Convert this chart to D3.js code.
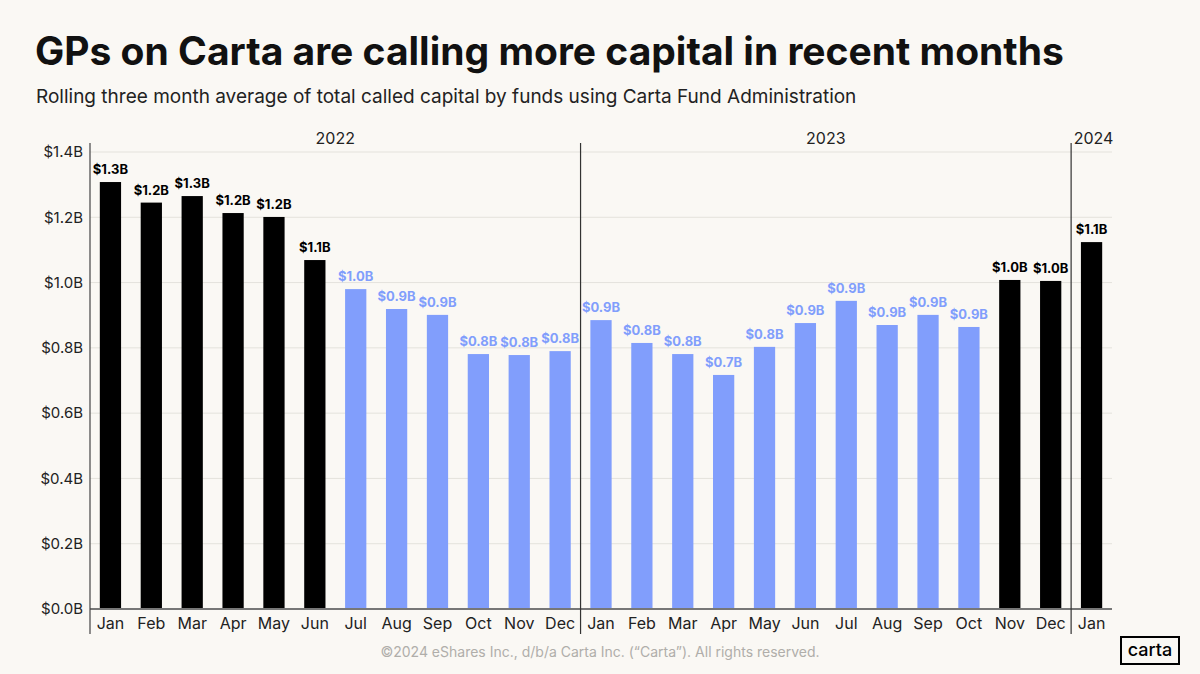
<!DOCTYPE html>
<html>
<head>
<meta charset="utf-8">
<script src="https://cdn.jsdelivr.net/npm/d3@7"></script>
<style>
  html, body { margin: 0; padding: 0; background: #faf8f4; }
  svg { display: block; font-family: Inter, "Open Sans", sans-serif; }
</style>
</head>
<body>
<div id="chart"></div>
<script>
// data
const years = ["2022", "2023", "2024"];
const months = [
  "Jan", "Feb", "Mar", "Apr", "May", "Jun", "Jul", "Aug", "Sep", "Oct", "Nov", "Dec",
  "Jan", "Feb", "Mar", "Apr", "May", "Jun", "Jul", "Aug", "Sep", "Oct", "Nov", "Dec",
  "Jan"
];
const monthYear = [
  "2022", "2022", "2022", "2022", "2022", "2022", "2022", "2022", "2022", "2022", "2022", "2022",
  "2023", "2023", "2023", "2023", "2023", "2023", "2023", "2023", "2023", "2023", "2023", "2023",
  "2024"
];
// called capital, $B
const calledCapital = [
  1.308, 1.245, 1.265, 1.213, 1.201, 1.069, 0.980, 0.919, 0.901, 0.781, 0.778, 0.790,
  0.885, 0.815, 0.781, 0.717, 0.803, 0.876, 0.944, 0.870, 0.901, 0.864, 1.008, 1.005,
  1.124
];
// months drawn in black
const highlighted = [
  "2022-Jan", "2022-Feb", "2022-Mar", "2022-Apr", "2022-May", "2022-Jun",
  "2023-Nov", "2023-Dec", "2024-Jan"
];
const yTicks = [0, 0.2, 0.4, 0.6, 0.8, 1.0, 1.2, 1.4];

const W = 1200, H = 674;
const black = "#000000", blue = "#819efc";

const rows = months.map((m, i) => ({
  key: monthYear[i] + "-" + m,
  month: m,
  year: monthYear[i],
  value: calledCapital[i]
}));

const svg = d3.select("#chart").append("svg")
  .attr("width", W)
  .attr("height", H);

svg.append("rect").attr("width", W).attr("height", H).attr("fill", "#faf8f4");

// titles
svg.append("text")
  .attr("x", 35).attr("y", 65)
  .attr("font-size", 39).attr("font-weight", 700)
  .attr("fill", "#111")
  .text("GPs on Carta are calling more capital in recent months");

svg.append("text")
  .attr("x", 36).attr("y", 103)
  .attr("font-size", 19).attr("fill", "#222")
  .text("Rolling three month average of total called capital by funds using Carta Fund Administration");

const plotLeft = 90, plotRight = 1112, plotTop = 152, plotBottom = 609;

const x = d3.scaleBand()
  .domain(rows.map(d => d.key))
  .range([plotLeft, plotRight])
  .paddingInner(0.48)
  .paddingOuter(0.24);

const y = d3.scaleLinear()
  .domain([0, 1.4])
  .range([plotBottom, plotTop]);

const fmt = v => "$" + d3.format(".1f")(v) + "B";
const colour = d3.scaleOrdinal()
  .domain([true, false])
  .range([black, blue]);
const isHi = d => highlighted.includes(d.key);

// gridlines
svg.append("g")
  .selectAll("line")
  .data(yTicks)
  .join("line")
  .attr("x1", plotLeft).attr("x2", plotRight)
  .attr("y1", d => y(d)).attr("y2", d => y(d))
  .attr("stroke", "#e4e2dc").attr("stroke-width", 1);

// y axis labels
const yAxis = svg.append("g")
  .attr("transform", `translate(${plotLeft},0)`)
  .call(d3.axisLeft(y).tickValues(yTicks).tickFormat(fmt).tickSize(0).tickPadding(7));
yAxis.select(".domain").remove();
yAxis.selectAll("text")
  .attr("font-size", 15).attr("fill", "#222")
  .attr("font-family", "Inter, sans-serif");

// bars
svg.append("g")
  .selectAll("rect")
  .data(rows)
  .join("rect")
  .attr("x", d => x(d.key))
  .attr("y", d => y(d.value))
  .attr("width", x.bandwidth())
  .attr("height", d => y(0) - y(d.value))
  .attr("fill", d => colour(isHi(d)));

// value labels
svg.append("g")
  .selectAll("text")
  .data(rows)
  .join("text")
  .attr("x", d => x(d.key) + x.bandwidth() / 2)
  .attr("y", d => y(d.value) - 8)
  .attr("text-anchor", "middle")
  .attr("font-size", 13).attr("font-weight", 700)
  .attr("fill", d => colour(isHi(d)))
  .text(d => fmt(d.value));

// x axis
const xAxis = svg.append("g")
  .attr("transform", `translate(0,${plotBottom})`)
  .call(d3.axisBottom(x).tickFormat(k => k.split("-")[1]).tickSize(0).tickPadding(9));
xAxis.select(".domain").remove();
xAxis.selectAll("text")
  .attr("font-size", 16).attr("fill", "#222")
  .attr("font-family", "Inter, sans-serif");

svg.append("line")
  .attr("x1", plotLeft).attr("x2", plotRight)
  .attr("y1", plotBottom).attr("y2", plotBottom)
  .attr("stroke", "#777").attr("stroke-width", 2);

// year separators and labels
const gap = (x.step() - x.bandwidth()) / 2;
const yearSpans = years.map(yr => {
  const ks = rows.filter(d => d.year === yr).map(d => d.key);
  const x0 = ks[0] === rows[0].key ? plotLeft : x(ks[0]) - gap;
  const last = ks[ks.length - 1];
  const x1 = last === rows[rows.length - 1].key ? plotRight : x(last) + x.bandwidth() + gap;
  return { year: yr, x0, x1 };
});

svg.append("line")
  .attr("x1", plotLeft).attr("x2", plotLeft)
  .attr("y1", 143).attr("y2", 634)
  .attr("stroke", "#444").attr("stroke-width", 1.2);

svg.append("g")
  .selectAll("line")
  .data(yearSpans.slice(1))
  .join("line")
  .attr("x1", d => d.x0).attr("x2", d => d.x0)
  .attr("y1", 143).attr("y2", 634)
  .attr("stroke", "#333").attr("stroke-width", 1.2);

svg.append("g")
  .selectAll("text")
  .data(yearSpans)
  .join("text")
  .attr("x", d => (d.x0 + d.x1) / 2 + (d.x1 - d.x0 < 60 ? 2 : 0))
  .attr("y", 144)
  .attr("text-anchor", "middle")
  .attr("font-size", 16).attr("fill", "#222")
  .text(d => d.year);

// footer
svg.append("text")
  .attr("x", 600).attr("y", 657)
  .attr("text-anchor", "middle")
  .attr("font-size", 14).attr("fill", "#b0aeaa")
  .text("©2024 eShares Inc., d/b/a Carta Inc. (“Carta”). All rights reserved.");

// logo
svg.append("rect")
  .attr("x", 1121).attr("y", 637)
  .attr("width", 58).attr("height", 27)
  .attr("fill", "none").attr("stroke", "#000").attr("stroke-width", 2);
svg.append("text")
  .attr("x", 1150).attr("y", 656)
  .attr("text-anchor", "middle")
  .attr("font-size", 18).attr("font-weight", 500).attr("fill", "#000")
  .text("carta");
</script>
</body>
</html>
